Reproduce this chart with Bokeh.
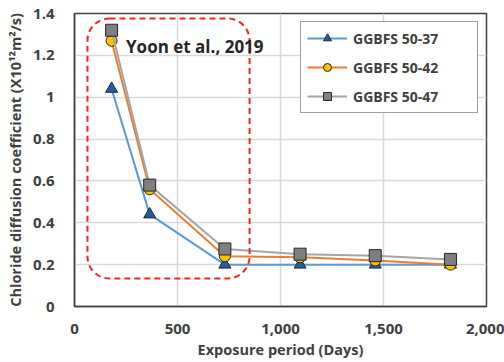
from bokeh.plotting import figure
from bokeh.models import BoxAnnotation, Legend, LegendItem, NumeralTickFormatter, FixedTicker, Label
from bokeh.embed import file_html
from bokeh.resources import INLINE

days = [180, 365, 730, 1095, 1460, 1825]
s37 = [1.04, 0.44, 0.20, 0.20, 0.20, 0.20]
s42 = [1.27, 0.56, 0.24, 0.235, 0.22, 0.20]
s47 = [1.32, 0.58, 0.275, 0.25, 0.243, 0.225]
names = ["GGBFS 50-37", "GGBFS 50-42", "GGBFS 50-47"]
x_ticks = [0, 500, 1000, 1500, 2000]
y_ticks = [0, 0.2, 0.4, 0.6, 0.8, 1.0, 1.2, 1.4]
box_x = [63, 850]
box_y = [0.134, 1.376]
note = "Yoon et al., 2019"
note_pos = (250, 1.24)

FONT = "Open Sans"
TXT = "#404040"

p = figure(width=504, height=362, x_range=(0, 2000), y_range=(0, 1.4),
           output_backend="svg", toolbar_location=None,
           min_border_left=74, min_border_right=18, min_border_top=13, min_border_bottom=56)
p.background_fill_color = "white"
p.border_fill_color = "white"
p.outline_line_color = "#404040"
p.outline_line_width = 1.5

for ax in (p.xaxis[0], p.yaxis[0]):
    ax.axis_line_color = "#404040"
    ax.axis_line_width = 1.5
    ax.major_tick_line_color = None
    ax.minor_tick_line_color = None
    ax.major_label_text_font = FONT
    ax.major_label_text_font_style = "bold"
    ax.major_label_text_font_size = "15px"
    ax.major_label_text_color = TXT
    ax.axis_label_text_font = FONT
    ax.axis_label_text_font_style = "bold"
    ax.axis_label_text_font_size = "14.5px"
    ax.axis_label_text_color = TXT

p.xaxis.ticker = FixedTicker(ticks=x_ticks)
p.yaxis.ticker = FixedTicker(ticks=y_ticks)
p.xaxis.formatter = NumeralTickFormatter(format="0,0")
p.yaxis.formatter = NumeralTickFormatter(format="0.[0]")
p.xaxis.major_label_standoff = 11
p.yaxis.major_label_standoff = 14
p.xaxis.axis_label = "Exposure period (Days)"
p.yaxis.axis_label = "Chloride diffusion coefficient (X10¹²m²/s)"
p.xaxis.axis_label_standoff = 3
p.yaxis.axis_label_standoff = 5

p.xgrid.grid_line_color = "#D9D9D9"
p.ygrid.grid_line_color = "#D9D9D9"
p.xgrid.grid_line_width = 1.5
p.ygrid.grid_line_width = 1.5

box = BoxAnnotation(left=box_x[0], right=box_x[1], bottom=box_y[0], top=box_y[1],
                    fill_alpha=0, line_color="#FF2020", line_alpha=1.0, line_dash="6 4",
                    line_width=2, border_radius=22)
p.add_layout(box)

styles = [
    (s37, "#5B9BD5", "triangle", "#1F5FA8", 12),
    (s42, "#ED7D31", "circle", "#FFC000", 11),
    (s47, "#A5A5A5", "square", "#7F7F7F", 12),
]
items = []
for (vals, lc, mk, fc, sz), nm in zip(styles, names):
    r1 = p.line(days, vals, line_color=lc, line_width=2)
    r2 = p.scatter(days, vals, marker=mk, size=sz, fill_color=fc, line_color="#262626", line_width=1)
    items.append(LegendItem(label=nm, renderers=[r1, r2]))

leg = Legend(items=items, location="top_right")
leg.label_text_font = FONT
leg.label_text_font_style = "bold"
leg.label_text_font_size = "14px"
leg.label_text_color = TXT
leg.border_line_color = "#404040"
leg.border_line_width = 1.2
leg.glyph_width = 40
leg.glyph_height = 20
leg.label_height = 20
leg.label_width = 118
leg.spacing = 9
leg.padding = 6
leg.margin = 8
leg.label_standoff = 6
p.add_layout(leg)

lab = Label(x=note_pos[0], y=note_pos[1], text=note, text_font=FONT, text_font_style="bold",
            text_font_size="17px", text_color="#262626", text_baseline="middle")
p.add_layout(lab)

open("out.html", "w").write(file_html(p, INLINE))
